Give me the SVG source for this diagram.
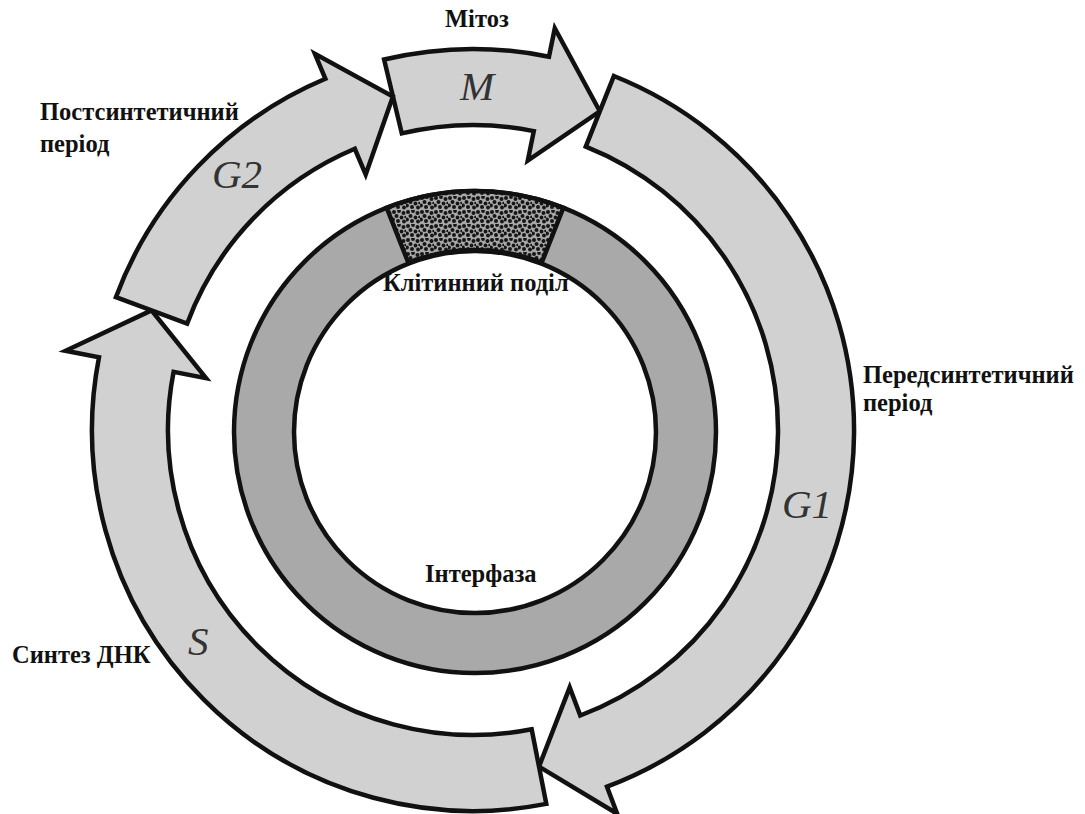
<svg xmlns="http://www.w3.org/2000/svg" width="1085" height="814" viewBox="0 0 1085 814">
<style>
.phase{fill:#d1d1d1;stroke:#111;stroke-width:4.5;stroke-linejoin:miter}
.ring{fill:#a9a9a9;stroke:#111;stroke-width:4.5}
.hole{fill:#fff;stroke:#111;stroke-width:4.5}
.stip{fill:url(#dots);stroke:#111;stroke-width:4.5}
.lbl{font-family:"Liberation Serif","Times New Roman",serif;font-weight:bold;font-size:24.5px;fill:#111}
.sym{font-family:"Liberation Serif","Times New Roman",serif;font-style:italic;font-size:41px;fill:#333}
</style>
<defs>
<pattern id="dots" x="0" y="0" width="14" height="14" patternUnits="userSpaceOnUse">
<rect width="14" height="14" fill="#a8a8a8"/>
<g fill="#161616">
<circle cx="2" cy="2" r="2"/><circle cx="7" cy="1" r="1.9"/><circle cx="11.5" cy="3" r="2"/>
<circle cx="4.5" cy="6" r="2"/><circle cx="9.5" cy="7.5" r="1.9"/><circle cx="1" cy="9.5" r="1.9"/>
<circle cx="6" cy="11" r="2"/><circle cx="12" cy="11.5" r="1.9"/><circle cx="13.5" cy="7" r="1.3"/>
</g>
</pattern>
</defs>
<rect width="1085" height="814" fill="#fff"/>

<g id="interphase-ring">
<circle class="ring" cx="475" cy="432" r="241"/>
<circle class="hole" cx="475" cy="432" r="181"/>
</g>
<g id="division-segment">
<path class="stip" d="M 386.7 207.8 A 241 241 0 0 1 563.3 207.8 L 541.7 262.7 A 182 182 0 0 0 408.3 262.7 Z"/>
</g>

<g id="phase-M">
<path class="phase" d="M 384.1 59.5 A 381 381 0 0 1 549.0 56.7 L 554.8 28.2 L 599.8 111.3 L 527.8 160.5 L 533.8 131.1 A 305 305 0 0 0 401.8 133.4 Z"/>
<text class="sym" x="460" y="100" textLength="42">M</text>
</g>
<g id="phase-G1">
<path class="phase" d="M 613.9 76.0 A 381 381 0 0 1 607.0 786.7 L 617.2 813.8 L 539.0 766.6 L 569.7 687.4 L 580.3 715.5 A 305 305 0 0 0 585.8 146.6 Z"/>
<text class="sym" x="782" y="518">G1</text>
</g>
<g id="phase-S">
<path class="phase" d="M 546.3 803.9 A 381 381 0 0 1 99.0 357.3 L 65.6 350.8 L 151.5 310.4 L 206.0 378.1 L 173.6 371.8 A 305 305 0 0 0 531.7 729.3 Z"/>
<text class="sym" x="188" y="655">S</text>
</g>
<g id="phase-G2">
<path class="phase" d="M 115.9 297.2 A 381 381 0 0 1 325.4 78.8 L 314.9 53.9 L 392.9 96.5 L 365.7 174.6 L 354.8 148.8 A 305 305 0 0 0 187.1 323.7 Z"/>
<text class="sym" x="212" y="188">G2</text>
</g>

<g id="labels">
<text class="lbl" x="445" y="27">Мітоз</text>
<text class="lbl" x="40" y="120">Постсинтетичний</text>
<text class="lbl" x="40" y="152">період</text>
<text class="lbl" x="863" y="383">Передсинтетичний</text>
<text class="lbl" x="863" y="411">період</text>
<text class="lbl" x="383" y="291">Клітинний поділ</text>
<text class="lbl" x="425" y="582">Інтерфаза</text>
<text class="lbl" x="12" y="663">Синтез ДНК</text>
</g>
</svg>
